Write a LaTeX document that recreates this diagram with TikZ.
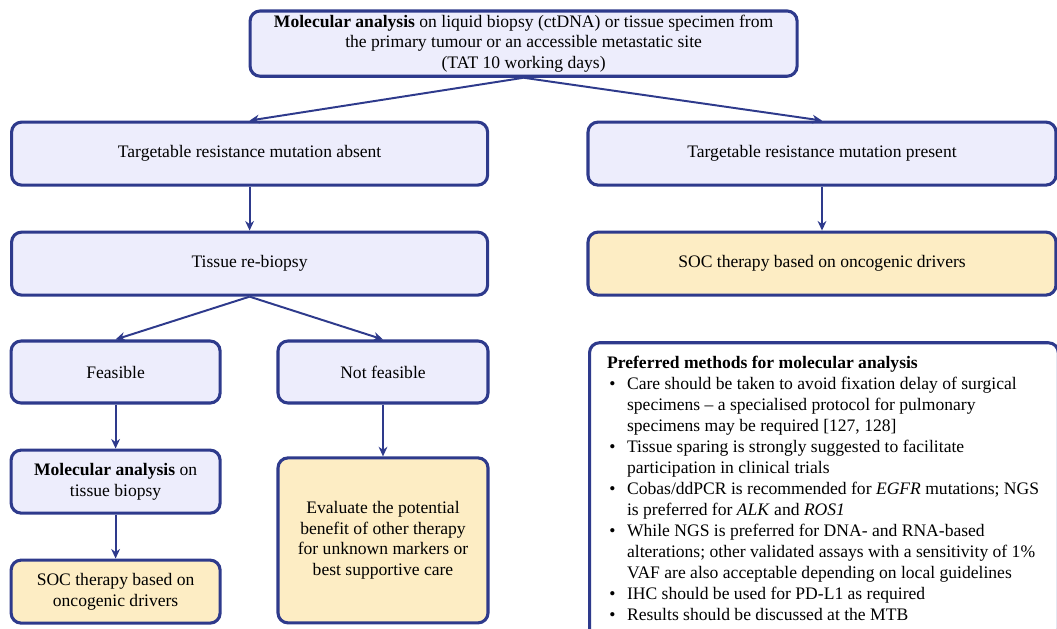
\documentclass[tikz,border=0pt]{standalone}
\usepackage{fontspec}
\setmainfont{Liberation Serif}
\usetikzlibrary{arrows.meta}
\definecolor{boxblue}{HTML}{2E3A8C}
\definecolor{boxfill}{HTML}{EDEDFC}
\definecolor{socfill}{HTML}{FDEDC4}
\begin{document}
\begin{tikzpicture}[inner sep=1mm, font=\fontsize{12.5}{14.6}\selectfont,
		boxstyle/.style={draw=boxblue, line width=2.2pt, rounded corners=2.5mm, fill=boxfill, align=center, minimum height=1.575cm},
		socstyle/.style={boxstyle, fill=socfill},
		edgestyle/.style={draw=boxblue, line width=1.4pt, -{Stealth[length=2.4mm,width=2.2mm]}}]

		\useasboundingbox (0,0) rectangle (26.425,-15.7);

		\node [boxstyle, minimum width=13.675cm] (mol) at (13.09,-1.09) {\textbf{Molecular analysis} on liquid biopsy (ctDNA) or tissue specimen from\\ the primary tumour or an accessible metastatic site\\ (TAT 10 working days)};
		\node [boxstyle, minimum width=11.9cm] (absent) at (6.24,-3.84) {Targetable resistance mutation absent};
		\node [boxstyle, minimum width=11.7cm] (present) at (20.55,-3.84) {Targetable resistance mutation present};
		\node [boxstyle, minimum width=11.9cm] (rebiopsy) at (6.24,-6.59) {Tissue re-biopsy};
		\node [socstyle, minimum width=11.7cm] (socright) at (20.55,-6.59) {SOC therapy based on oncogenic drivers};
		\node [boxstyle, minimum width=5.225cm, minimum height=1.55cm] (feasible) at (2.89,-9.3) {Feasible};
		\node [boxstyle, minimum width=5.25cm, minimum height=1.55cm] (notfeasible) at (9.575,-9.3) {Not feasible};
		\node [boxstyle, minimum width=5.225cm] (moltissue) at (2.89,-12.04) {\textbf{Molecular analysis} on\\ tissue biopsy};
		\node [socstyle, minimum width=5.225cm] (socleft) at (2.89,-14.79) {SOC therapy based on\\ oncogenic drivers};
		\node [socstyle, minimum width=5.25cm, minimum height=4.125cm] (evaluate) at (9.575,-13.51) {Evaluate the potential\\ benefit of other therapy\\ for unknown markers or\\ best supportive care};

		\node [draw=boxblue, line width=2.2pt, rounded corners=2.5mm, fill=white, anchor=north west, minimum width=11.72cm, minimum height=7.4cm] (prefbox) at (14.7,-8.53) {};
		\node [anchor=north west, inner sep=0mm, font=\fontsize{12.5}{14.95}\selectfont] (preftext) at (15.17,-8.83) {%
			\begin{tabular}{@{}p{0.5cm}@{}l@{}}
			\multicolumn{2}{@{}l@{}}{\bfseries Preferred methods for molecular analysis}\\
			\hspace{0.06cm}\textbullet & Care should be taken to avoid fixation delay of surgical\\
			 & specimens -- a specialised protocol for pulmonary\\
			 & specimens may be required [127, 128]\\
			\hspace{0.06cm}\textbullet & Tissue sparing is strongly suggested to facilitate\\
			 & participation in clinical trials\\
			\hspace{0.06cm}\textbullet & Cobas/ddPCR is recommended for \textit{EGFR} mutations; NGS\\
			 & is preferred for \textit{ALK} and \textit{ROS1}\\
			\hspace{0.06cm}\textbullet & While NGS is preferred for DNA- and RNA-based\\
			 & alterations; other validated assays with a sensitivity of 1\%\\
			 & VAF are also acceptable depending on local guidelines\\
			\hspace{0.06cm}\textbullet & IHC should be used for PD-L1 as required\\
			\hspace{0.06cm}\textbullet & Results should be discussed at the MTB
			\end{tabular}};

		\draw [edgestyle] (mol.south) -- (absent.north);
		\draw [edgestyle] (mol.south) -- (present.north);
		\draw [edgestyle] (absent) -- (rebiopsy);
		\draw [edgestyle] (present) -- (socright);
		\draw [edgestyle] (rebiopsy.south) -- (feasible.north);
		\draw [edgestyle] (rebiopsy.south) -- (notfeasible.north);
		\draw [edgestyle] (feasible) -- (moltissue);
		\draw [edgestyle] (moltissue) -- (socleft);
		\draw [edgestyle] (notfeasible) -- (evaluate);
		\end{tikzpicture}
\end{document}
